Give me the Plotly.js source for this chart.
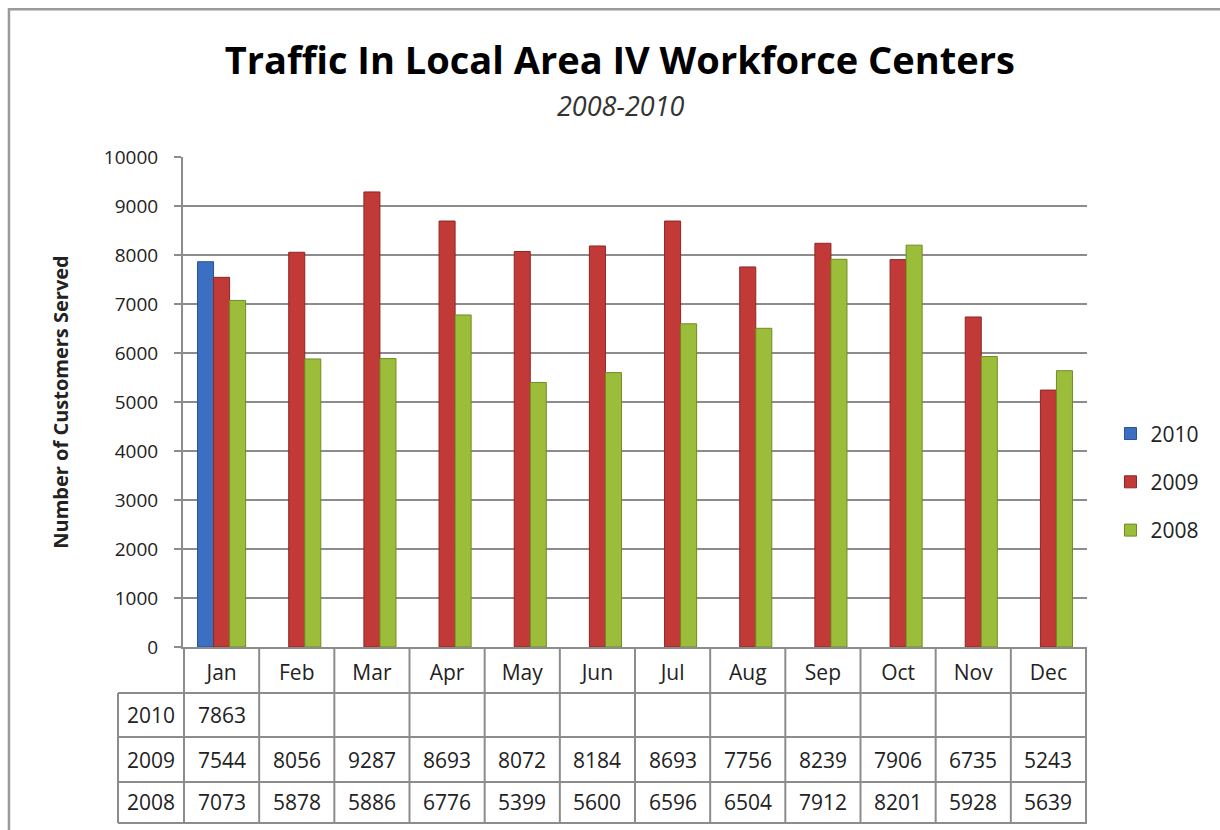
<!DOCTYPE html>
<html>
<head>
<meta charset="utf-8">
<script src="https://cdn.plot.ly/plotly-3.0.1.min.js"></script>
<style>
  html, body { margin: 0; padding: 0; background: #ffffff; }
  #chart { width: 1220px; height: 830px; }
</style>
</head>
<body>
<div id="chart"></div>
<script>
// ---- data ----
const months = ['Jan','Feb','Mar','Apr','May','Jun','Jul','Aug','Sep','Oct','Nov','Dec'];
const years = ['2010','2009','2008'];
const values2010 = [7863, null, null, null, null, null, null, null, null, null, null, null];
const values2009 = [7544, 8056, 9287, 8693, 8072, 8184, 8693, 7756, 8239, 7906, 6735, 5243];
const values2008 = [7073, 5878, 5886, 6776, 5399, 5600, 6596, 6504, 7912, 8201, 5928, 5639];
const yTicks = [0,1000,2000,3000,4000,5000,6000,7000,8000,9000,10000];
const yTickLabels = ['0','1000','2000','3000','4000','5000','6000','7000','8000','9000','10000'];

const seriesValues = [values2010, values2009, values2008];
const colors = ['#3b6fc1', '#c23a38', '#9bbd3a'];
const lineColors = ['#2a5294', '#8e2624', '#6f8c24'];

const FONT = 'Open Sans, Noto Sans, sans-serif';
const gridCol = '#8c8c8c';

const traces = years.map((yr, i) => ({
  type: 'bar',
  name: yr,
  x: months,
  y: seriesValues[i],
  legendgroup: yr,
  marker: { color: colors[i], line: { color: lineColors[i], width: 1 } },
  hoverinfo: 'x+y+name'
}));

// ---- table geometry (paper coords relative to plot area) ----
const rowLines = [-0.09388, -0.18367, -0.27551, -0.35918];
const rowCenters = [-0.1388, -0.2296, -0.3173];
const leftColX = -0.0719;
const rightX = 1.0;

const shapes = [];
rowLines.forEach(y => {
  shapes.push({ type: 'line', xref: 'paper', yref: 'paper', x0: leftColX, x1: rightX, y0: y, y1: y,
    line: { color: gridCol, width: 2 } });
});
for (let k = 0; k <= months.length; k++) {
  shapes.push({ type: 'line', xref: 'x', yref: 'paper', x0: k - 0.5, x1: k - 0.5, y0: 0, y1: rowLines[3],
    line: { color: gridCol, width: 2 } });
}
shapes.push({ type: 'line', xref: 'paper', yref: 'paper', x0: leftColX, x1: leftColX, y0: rowLines[0], y1: rowLines[3],
  line: { color: gridCol, width: 2 } });
// outer chart border
shapes.push({ type: 'rect', xref: 'paper', yref: 'paper', x0: -0.1925, x1: 1.18, y0: -0.42, y1: 1.3016,
  line: { color: '#9a9a9a', width: 2.5 }, fillcolor: 'rgba(0,0,0,0)' });

const annotations = [];
annotations.push({ xref: 'paper', yref: 'paper', x: 0.484, y: 1.106, text: '<i>2008-2010</i>', showarrow: false,
  font: { family: FONT, size: 27, color: '#333333' }, xanchor: 'center', yanchor: 'middle' });
years.forEach((yr, r) => {
  annotations.push({ xref: 'paper', yref: 'paper', x: leftColX / 2, y: rowCenters[r], text: yr,
    showarrow: false, font: { family: FONT, size: 21, color: '#222222' }, xanchor: 'center', yanchor: 'middle' });
  seriesValues[r].forEach((v, m) => {
    if (v === null) return;
    annotations.push({ xref: 'x', yref: 'paper', x: months[m], y: rowCenters[r], text: String(v),
      showarrow: false, font: { family: FONT, size: 21, color: '#222222' }, xanchor: 'center', yanchor: 'middle' });
  });
});

const layout = {
  width: 1220, height: 830,
  paper_bgcolor: '#ffffff', plot_bgcolor: '#ffffff',
  margin: { l: 183, r: 133, t: 157, b: 183 },
  title: { text: '<b>Traffic In Local Area IV Workforce Centers</b>', x: 0.508, xanchor: 'center',
    y: 0.927, yanchor: 'middle', font: { family: FONT, size: 38, color: '#000000' } },
  barmode: 'group', bargap: 0.36, bargroupgap: 0,
  xaxis: {
    type: 'category', tickvals: months, ticktext: months,
    showline: true, linecolor: gridCol, linewidth: 2,
    ticks: '', showgrid: false, zeroline: false,
    ticklabelstandoff: 6,
    tickfont: { family: FONT, size: 21, color: '#222222' },
    fixedrange: true
  },
  yaxis: {
    range: [0, 10000], tickvals: yTicks, ticktext: yTickLabels,
    showline: true, linecolor: gridCol, linewidth: 2,
    ticks: 'outside', ticklen: 7, tickwidth: 2, tickcolor: gridCol,
    showgrid: true, gridcolor: gridCol, gridwidth: 2,
    zeroline: false, ticklabelstandoff: 12,
    tickfont: { family: FONT, size: 19, color: '#222222' },
    title: { text: '<b>Number of Customers Served</b>', standoff: 30,
      font: { family: FONT, size: 20, color: '#222222' } },
    fixedrange: true
  },
  showlegend: true,
  legend: {
    x: 1.026, xanchor: 'left', y: 0.337, yanchor: 'middle',
    traceorder: 'grouped', tracegroupgap: 18,
    font: { family: FONT, size: 21, color: '#222222' },
    bgcolor: 'rgba(0,0,0,0)', itemwidth: 30
  },
  shapes: shapes,
  annotations: annotations
};

Plotly.newPlot('chart', traces, layout, { displayModeBar: false, staticPlot: true });
</script>
</body>
</html>
